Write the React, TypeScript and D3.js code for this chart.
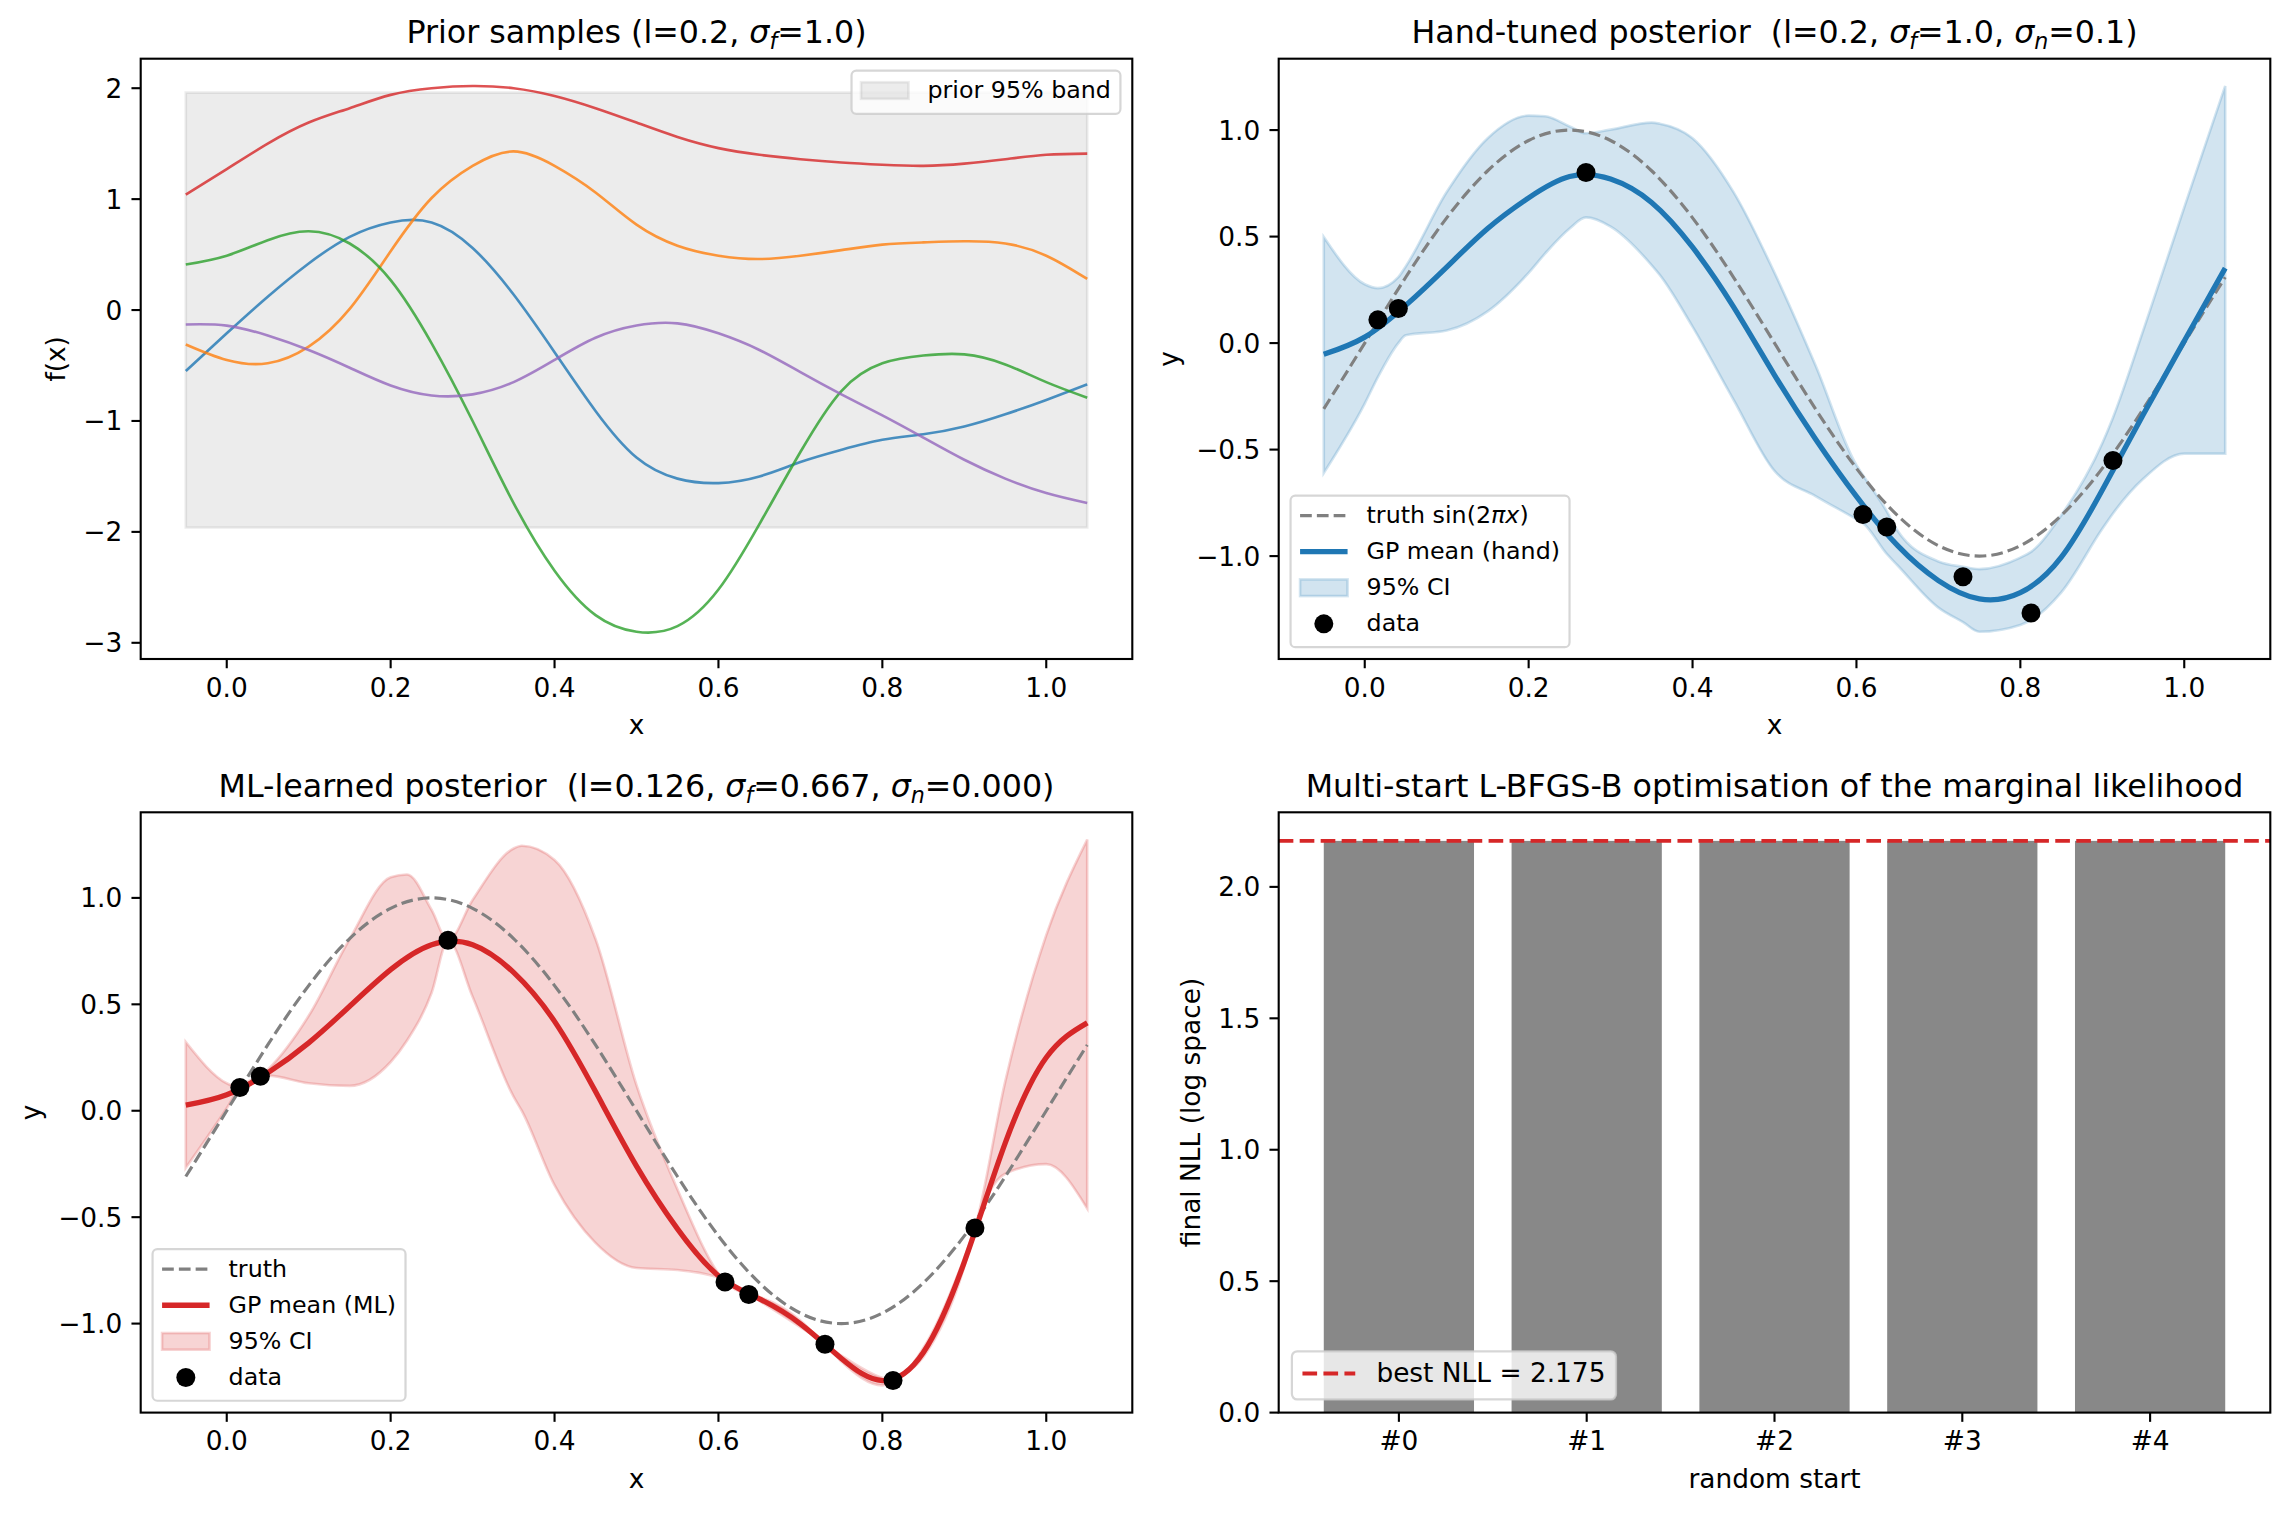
import React, { useEffect, useRef } from 'react'
import * as d3 from 'd3'

const W = 2288
const H = 1514

// ---- prior samples (top left) ----
const priorX = [-0.05, 0, 0.05, 0.1, 0.15, 0.2, 0.25, 0.3, 0.35, 0.4, 0.45, 0.5, 0.55, 0.6, 0.65, 0.7, 0.75, 0.8, 0.85, 0.9, 0.95, 1.0, 1.05]
const priorBlue = [-0.55, -0.21, 0.12, 0.42, 0.66, 0.79, 0.79, 0.56, 0.14, -0.38, -0.91, -1.33, -1.52, -1.56, -1.5, -1.37, -1.26, -1.17, -1.12, -1.05, -0.94, -0.81, -0.67]
const priorOrange = [-0.31, -0.45, -0.48, -0.33, 0.01, 0.53, 1.01, 1.3, 1.43, 1.3, 1.06, 0.77, 0.58, 0.49, 0.46, 0.49, 0.54, 0.59, 0.61, 0.62, 0.6, 0.49, 0.28]
const priorGreen = [0.41, 0.49, 0.63, 0.71, 0.6, 0.27, -0.3, -1.0, -1.74, -2.35, -2.75, -2.9, -2.85, -2.52, -1.93, -1.28, -0.73, -0.48, -0.41, -0.4, -0.49, -0.65, -0.79]
const priorRed = [1.04, 1.27, 1.5, 1.69, 1.82, 1.94, 2.0, 2.02, 2.0, 1.93, 1.82, 1.69, 1.56, 1.46, 1.4, 1.36, 1.33, 1.31, 1.3, 1.32, 1.36, 1.4, 1.41]
const priorPurple = [-0.13, -0.14, -0.23, -0.36, -0.52, -0.68, -0.77, -0.76, -0.65, -0.45, -0.25, -0.14, -0.12, -0.21, -0.36, -0.56, -0.76, -0.95, -1.15, -1.35, -1.52, -1.65, -1.74]
const priorBandX = [-0.05, 1.05]
const priorBandHi = [1.96, 1.96]
const priorBandLo = [-1.96, -1.96]

// ---- posteriors (top right, bottom left) ----
const postX = [-0.05, 0, 0.016, 0.041, 0.05, 0.1, 0.15, 0.2, 0.22, 0.25, 0.27, 0.3, 0.35, 0.36, 0.4, 0.45, 0.5, 0.55, 0.6, 0.608, 0.637, 0.65, 0.7, 0.73, 0.75, 0.8, 0.813, 0.85, 0.9, 0.913, 0.95, 1.0, 1.05]
const truthY = [-0.309, 0, 0.1, 0.254, 0.309, 0.588, 0.809, 0.951, 0.982, 1.0, 0.992, 0.951, 0.809, 0.77, 0.588, 0.309, 0, -0.309, -0.588, -0.627, -0.75, -0.809, -0.951, -0.992, -1.0, -0.951, -0.925, -0.809, -0.588, -0.516, -0.309, 0, 0.309]
const handMean = [-0.053, 0.028, 0.072, 0.148, 0.177, 0.357, 0.538, 0.682, 0.73, 0.782, 0.795, 0.77, 0.66, 0.631, 0.45, 0.17, -0.15, -0.45, -0.72, -0.757, -0.89, -0.95, -1.115, -1.18, -1.201, -1.172, -1.141, -1.005, -0.69, -0.6, -0.335, 0.01, 0.352]
const handHi = [0.498, 0.276, 0.258, 0.31, 0.36, 0.709, 0.962, 1.068, 1.065, 1.017, 0.985, 1.002, 1.035, 1.03, 0.962, 0.709, 0.33, -0.104, -0.573, -0.62, -0.79, -0.88, -1.025, -1.05, -1.061, -1.007, -0.98, -0.808, -0.47, -0.35, 0.06, 0.637, 1.207]
const handLo = [-0.61, -0.284, -0.16, 0.0, 0.037, 0.059, 0.149, 0.33, 0.42, 0.538, 0.59, 0.547, 0.366, 0.32, 0.077, -0.266, -0.6, -0.718, -0.827, -0.845, -0.99, -1.043, -1.242, -1.31, -1.355, -1.323, -1.3, -1.17, -0.872, -0.8, -0.637, -0.519, -0.519]
const mlMean = [0.026, 0.075, 0.108, 0.16, 0.178, 0.319, 0.491, 0.663, 0.72, 0.78, 0.8, 0.78, 0.65, 0.62, 0.42, 0.09, -0.26, -0.555, -0.775, -0.805, -0.862, -0.884, -1.001, -1.097, -1.164, -1.268, -1.267, -1.136, -0.711, -0.551, -0.151, 0.25, 0.413]
const mlHi = [0.323, 0.129, 0.108, 0.162, 0.193, 0.446, 0.807, 1.097, 1.11, 0.943, 0.8, 0.99, 1.232, 1.245, 1.178, 0.807, 0.12, -0.37, -0.765, -0.805, -0.862, -0.875, -0.985, -1.097, -1.15, -1.255, -1.267, -1.115, -0.69, -0.551, 0.138, 0.825, 1.274]
const mlLo = [-0.268, 0.012, 0.108, 0.158, 0.165, 0.129, 0.117, 0.229, 0.33, 0.554, 0.8, 0.536, 0.066, 0.0, -0.35, -0.621, -0.739, -0.748, -0.785, -0.805, -0.862, -0.893, -1.017, -1.097, -1.178, -1.29, -1.267, -1.157, -0.732, -0.551, -0.296, -0.251, -0.459]
const dataX = [0.016, 0.041, 0.27, 0.608, 0.637, 0.73, 0.813, 0.913]
const dataY = [0.109, 0.162, 0.801, -0.805, -0.863, -1.097, -1.267, -0.551]

// ---- optimiser restarts (bottom right) ----
const starts = ['#0', '#1', '#2', '#3', '#4']
const finalNll = [2.175, 2.175, 2.175, 2.175, 2.175]
const bestNll = 2.175

const xTicks = [0, 0.2, 0.4, 0.6, 0.8, 1.0]
const tlYTicks = [-3, -2, -1, 0, 1, 2]
const postYTicks = [-1, -0.5, 0, 0.5, 1]
const brYTicks = [0, 0.5, 1, 1.5, 2]

const C0 = '#1f77b4'
const C1 = '#ff7f0e'
const C2 = '#2ca02c'
const C3 = '#d62728'
const C4 = '#9467bd'

const PT = 2.64 // px per point
const TICK_FS = 26.4
const TITLE_FS = 31.7
const LEG_FS = 23.75

type Box = { x: number; y: number; w: number; h: number }
const boxes: Record<string, Box> = {
  tl: { x: 140.7, y: 58.7, w: 991.6, h: 600.3 },
  tr: { x: 1278.7, y: 58.7, w: 991.6, h: 600.3 },
  bl: { x: 140.7, y: 812.3, w: 991.6, h: 600.3 },
  br: { x: 1278.7, y: 812.3, w: 991.6, h: 600.3 },
}

type Run = { t: string; it?: boolean; sub?: boolean }

const minus = (s: string) => s.replace('-', '\u2212')
const fmt0 = (v: number) => minus(v.toFixed(0))
const fmt1 = (v: number) => minus(v.toFixed(1))

// indices of the evenly spaced (0.05 step) posterior samples, used for smooth splines
const evenIdx = postX.map((_, i) => i).filter((i) => Math.abs(postX[i] * 20 - Math.round(postX[i] * 20)) < 1e-6)

const padded = (vals: number[]): [number, number] => {
  const [a, b] = d3.extent(vals) as [number, number]
  const r = b - a
  return [a - 0.05 * r, b + 0.05 * r]
}

function runs(sel: any, parts: Run[], fs: number) {
  let down = false
  parts.forEach((p) => {
    const ts = sel.append('tspan').text(p.t)
    if (p.it) ts.attr('font-style', 'italic')
    if (p.sub) {
      ts.attr('font-size', fs * 0.7).attr('dy', fs * 0.2)
      down = true
    } else if (down) {
      ts.attr('dy', -fs * 0.2)
      down = false
    }
  })
}

function makeAxes(svg: any, id: string, box: Box, xd: [number, number], yd: [number, number]) {
  const x = d3.scaleLinear().domain(xd).range([box.x, box.x + box.w])
  const y = d3.scaleLinear().domain(yd).range([box.y + box.h, box.y])
  svg.append('clipPath').attr('id', id)
    .append('rect').attr('x', box.x).attr('y', box.y).attr('width', box.w).attr('height', box.h)
  const plot = svg.append('g').attr('clip-path', `url(#${id})`)
  return { x, y, plot }
}

function frame(svg: any, box: Box, x: any, y: any, xt: number[], xf: (v: number, i: number) => string,
  yt: number[], yf: (v: number) => string, xlabel: string, ylabel: string, title: Run[]) {
  const g = svg.append('g').attr('fill', '#000')
  const bottom = box.y + box.h
  xt.forEach((v, i) => {
    g.append('line').attr('x1', x(v)).attr('x2', x(v)).attr('y1', bottom).attr('y2', bottom + 3.5 * PT)
      .attr('stroke', '#000').attr('stroke-width', 0.8 * PT)
    g.append('text').attr('x', x(v)).attr('y', bottom + 37.5).attr('text-anchor', 'middle')
      .attr('font-size', TICK_FS).text(xf(v, i))
  })
  let maxW = 0
  yt.forEach((v) => {
    g.append('line').attr('x1', box.x - 3.5 * PT).attr('x2', box.x).attr('y1', y(v)).attr('y2', y(v))
      .attr('stroke', '#000').attr('stroke-width', 0.8 * PT)
    const t = g.append('text').attr('x', box.x - 7 * PT).attr('y', y(v) + 0.36 * TICK_FS)
      .attr('text-anchor', 'end').attr('font-size', TICK_FS).text(yf(v))
    maxW = Math.max(maxW, (t.node() as SVGTextElement).getComputedTextLength())
  })
  g.append('rect').attr('x', box.x).attr('y', box.y).attr('width', box.w).attr('height', box.h)
    .attr('fill', 'none').attr('stroke', '#000').attr('stroke-width', 0.8 * PT)
  g.append('text').attr('x', box.x + box.w / 2).attr('y', bottom + 75).attr('text-anchor', 'middle')
    .attr('font-size', TICK_FS).text(xlabel)
  const lx = box.x - maxW - 37
  g.append('text').attr('transform', `translate(${lx},${box.y + box.h / 2}) rotate(-90)`)
    .attr('text-anchor', 'middle').attr('font-size', TICK_FS).text(ylabel)
  const tt = g.append('text').attr('x', box.x + box.w / 2).attr('y', box.y - 15.7)
    .attr('text-anchor', 'middle').attr('font-size', TITLE_FS).style('white-space', 'pre')
  runs(tt, title, TITLE_FS)
}

type Item = { label: Run[]; kind: 'line' | 'dash' | 'patch' | 'dot'; color: string; width?: number; dash?: string; opacity?: number }

function legend(svg: any, box: Box, items: Item[], loc: 'ur' | 'll', f: number) {
  const g = svg.append('g')
  const fr = g.append('rect')
  const rowH = 1.02 * f
  const gap = 0.5 * f
  const pad = 0.4 * f
  const texts = items.map((it) => {
    const t = g.append('text').attr('font-size', f).style('white-space', 'pre')
    runs(t, it.label, f)
    return t
  })
  const tw = Math.max(...texts.map((t: any) => (t.node() as SVGTextElement).getComputedTextLength()))
  const bw = 2 * pad + 2.8 * f + tw
  const bh = 2 * pad + items.length * rowH + (items.length - 1) * gap
  const bx = loc === 'ur' ? box.x + box.w - 0.5 * f - bw : box.x + 0.5 * f
  const by = loc === 'ur' ? box.y + 0.5 * f : box.y + box.h - 0.5 * f - bh
  fr.attr('x', bx).attr('y', by).attr('width', bw).attr('height', bh).attr('rx', 0.2 * f)
    .attr('fill', '#fff').attr('fill-opacity', 0.8).attr('stroke', '#cccccc').attr('stroke-opacity', 0.8)
    .attr('stroke-width', 2.2)
  items.forEach((it, i) => {
    const top = by + pad + i * (rowH + gap)
    const cy = top + 0.44 * f
    const x0 = bx + pad
    if (it.kind === 'line' || it.kind === 'dash') {
      g.append('line').attr('x1', x0).attr('x2', x0 + 2 * f).attr('y1', cy).attr('y2', cy)
        .attr('stroke', it.color).attr('stroke-width', it.width ?? PT)
        .attr('stroke-dasharray', it.dash ?? null)
    } else if (it.kind === 'patch') {
      g.append('rect').attr('x', x0).attr('y', cy - 0.35 * f).attr('width', 2 * f).attr('height', 0.7 * f)
        .attr('fill', it.color).attr('fill-opacity', it.opacity).attr('stroke', it.color)
        .attr('stroke-opacity', it.opacity).attr('stroke-width', PT)
    } else {
      g.append('circle').attr('cx', x0 + f).attr('cy', cy).attr('r', 9.5).attr('fill', it.color)
    }
    texts[i].attr('x', x0 + 2.8 * f).attr('y', top + 0.76 * f)
  })
}

function drawPrior(svg: any) {
  const box = boxes.tl
  const all = [...priorBlue, ...priorOrange, ...priorGreen, ...priorRed, ...priorPurple, ...priorBandHi, ...priorBandLo]
  const { x, y, plot } = makeAxes(svg, 'clip-tl', box, padded(priorBandX), padded(all))
  const band = d3.area<number>().x((_, i) => x(priorBandX[i])).y0((_, i) => y(priorBandLo[i])).y1((d) => y(d))
  plot.append('path').attr('d', band(priorBandHi)).attr('fill', 'gray').attr('fill-opacity', 0.15)
    .attr('stroke', 'gray').attr('stroke-opacity', 0.15).attr('stroke-width', PT)
  const line = d3.line<number>().x((_, i) => x(priorX[i])).y((d) => y(d)).curve(d3.curveNatural)
  const samples: [number[], string][] = [[priorBlue, C0], [priorOrange, C1], [priorGreen, C2], [priorRed, C3], [priorPurple, C4]]
  samples.forEach(([vals, c]) => {
    plot.append('path').attr('d', line(vals)).attr('fill', 'none').attr('stroke', c)
      .attr('stroke-width', PT).attr('stroke-opacity', 0.8)
  })
  frame(svg, box, x, y, xTicks, fmt1, tlYTicks, fmt0, 'x', 'f(x)',
    [{ t: 'Prior samples (l=0.2, ' }, { t: '\u03c3', it: true }, { t: 'f', it: true, sub: true }, { t: '=1.0)' }])
  legend(svg, box, [{ label: [{ t: 'prior 95% band' }], kind: 'patch', color: 'gray', opacity: 0.15 }], 'ur', LEG_FS)
}

function drawPosterior(svg: any, key: string, mean: number[], hi: number[], lo: number[], color: string,
  bandCurve: d3.CurveFactory, title: Run[], truthLabel: Run[], meanLabel: string) {
  const box = boxes[key]
  const all = [...mean, ...hi, ...lo, ...truthY, ...dataY]
  const { x, y, plot } = makeAxes(svg, 'clip-' + key, box, padded(postX), padded(all))
  const area = d3.area<number>().x((_, i) => x(postX[i])).y0((_, i) => y(lo[i])).y1((d) => y(d))
    .curve(bandCurve)
  plot.append('path').attr('d', area(hi)).attr('fill', color).attr('fill-opacity', 0.2)
    .attr('stroke', color).attr('stroke-opacity', 0.2).attr('stroke-width', PT)
  const smooth = d3.line<number>().x((i) => x(postX[i])).curve(d3.curveNatural)
  plot.append('path').attr('d', smooth.y((i) => y(truthY[i]))(evenIdx)).attr('fill', 'none').attr('stroke', 'gray')
    .attr('stroke-width', 1.2 * PT).attr('stroke-dasharray', `${3.7 * 1.2 * PT} ${1.6 * 1.2 * PT}`)
  plot.append('path').attr('d', smooth.y((i) => y(mean[i]))(evenIdx)).attr('fill', 'none').attr('stroke', color)
    .attr('stroke-width', 2 * PT)
  plot.selectAll('circle.pt').data(dataX).join('circle').attr('class', 'pt')
    .attr('cx', (d: number) => x(d)).attr('cy', (_: number, i: number) => y(dataY[i])).attr('r', 9.5).attr('fill', '#000')
  frame(svg, box, x, y, xTicks, fmt1, postYTicks, fmt1, 'x', 'y', title)
  legend(svg, box, [
    { label: truthLabel, kind: 'dash', color: 'gray', width: 1.2 * PT, dash: `${3.7 * 1.2 * PT} ${1.6 * 1.2 * PT}` },
    { label: [{ t: meanLabel }], kind: 'line', color, width: 2 * PT },
    { label: [{ t: '95% CI' }], kind: 'patch', color, opacity: 0.2 },
    { label: [{ t: 'data' }], kind: 'dot', color: '#000' },
  ], 'll', LEG_FS)
}

function drawRestarts(svg: any) {
  const box = boxes.br
  const { x, y, plot } = makeAxes(svg, 'clip-br', box, [-0.64, starts.length - 1 + 0.64], [0, (d3.max(finalNll) as number) * 1.05])
  plot.selectAll('rect.bar').data(finalNll).join('rect').attr('class', 'bar')
    .attr('x', (_: number, i: number) => x(i - 0.4)).attr('width', x(0.4) - x(-0.4))
    .attr('y', (d: number) => y(d)).attr('height', (d: number) => y(0) - y(d)).attr('fill', '#888888')
  const dash = `${3.7 * 1.5 * PT} ${1.6 * 1.5 * PT}`
  plot.append('line').attr('x1', box.x).attr('x2', box.x + box.w).attr('y1', y(bestNll)).attr('y2', y(bestNll))
    .attr('stroke', C3).attr('stroke-width', 1.5 * PT).attr('stroke-dasharray', dash)
  frame(svg, box, x, y, starts.map((_, i) => i), (_v, i) => starts[i], brYTicks, fmt1,
    'random start', 'final NLL (log space)', [{ t: 'Multi-start L-BFGS-B optimisation of the marginal likelihood' }])
  legend(svg, box, [{ label: [{ t: `best NLL = ${bestNll.toFixed(3)}` }], kind: 'dash', color: C3, width: 1.5 * PT, dash }],
    'll', TICK_FS)
}

function App() {
  const ref = useRef<SVGSVGElement>(null)
  useEffect(() => {
    const svg = d3.select(ref.current)
    svg.selectAll('*').remove()
    drawPrior(svg)
    drawPosterior(svg, 'tr', handMean, handHi, handLo, C0, d3.curveMonotoneX,
      [{ t: 'Hand-tuned posterior  (l=0.2, ' }, { t: '\u03c3', it: true }, { t: 'f', it: true, sub: true },
        { t: '=1.0, ' }, { t: '\u03c3', it: true }, { t: 'n', it: true, sub: true }, { t: '=0.1)' }],
      [{ t: 'truth sin(2' }, { t: '\u03c0', it: true }, { t: 'x', it: true }, { t: ')' }], 'GP mean (hand)')
    drawPosterior(svg, 'bl', mlMean, mlHi, mlLo, C3, d3.curveMonotoneX,
      [{ t: 'ML-learned posterior  (l=0.126, ' }, { t: '\u03c3', it: true }, { t: 'f', it: true, sub: true },
        { t: '=0.667, ' }, { t: '\u03c3', it: true }, { t: 'n', it: true, sub: true }, { t: '=0.000)' }],
      [{ t: 'truth' }], 'GP mean (ML)')
    drawRestarts(svg)
  }, [])
  return (
    <svg ref={ref} width={W} height={H}
      style={{ position: 'absolute', left: 0, top: 0, background: '#fff' }}
      fontFamily="'DejaVu Sans', sans-serif" />
  )
}

export default App
